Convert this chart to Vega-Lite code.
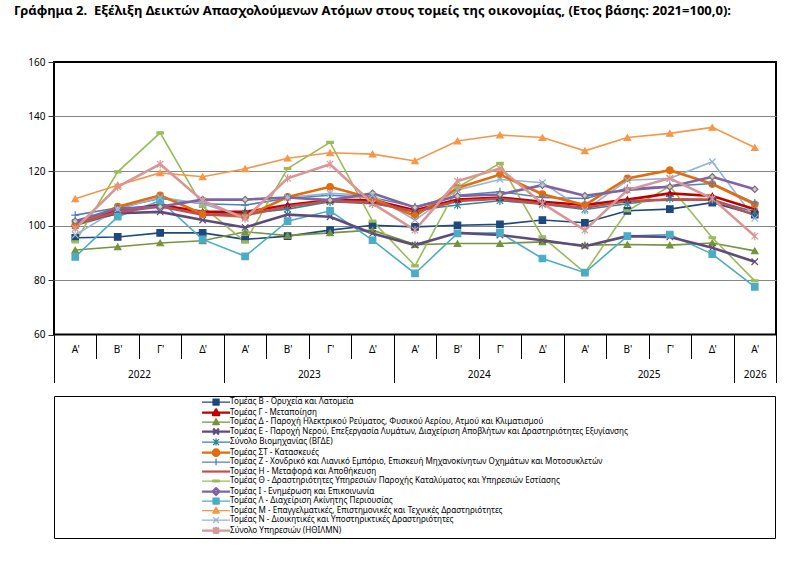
{
  "$schema": "https://vega.github.io/schema/vega-lite/v6.json",
  "width": 722,
  "height": 272.5,
  "autosize": {"type": "none"},
  "padding": {"left": 54, "top": 62, "right": 35, "bottom": 233.5},
  "background": "white",
  "title": {
    "text": "Γράφημα 2.\u00a0 Εξέλιξη Δεικτών Απασχολούμενων Ατόμων στους τομείς της οικονομίας, (Ετος βάσης: 2021=100,0):",
    "anchor": "start", "frame": "group", "dx": -40, "offset": 39,
    "font": "Noto Sans", "fontSize": 13, "fontWeight": "bold", "color": "black"
  },
  "params": [
    {"name": "codes", "value": ["B", "G", "D", "E", "BGDE", "ST", "Z", "H", "TH", "I", "L", "M", "N", "HTHILMN"]},
    {"name": "names", "value": [
      "Τομέας Β - Ορυχεία και Λατομεία",
      "Τομέας Γ - Μεταποίηση",
      "Τομέας Δ - Παροχή Ηλεκτρικού Ρεύματος, Φυσικού Αερίου, Ατμού και Κλιματισμού",
      "Τομέας Ε - Παροχή Νερού, Επεξεργασία Λυμάτων, Διαχείριση Αποβλήτων και Δραστηριότητες Εξυγίανσης",
      "Σύνολο Βιομηχανίας (ΒΓΔΕ)",
      "Τομέας ΣΤ - Κατασκευές",
      "Τομέας Ζ - Χονδρικό και Λιανικό Εμπόριο, Επισκευή Μηχανοκίνητων Οχημάτων και Μοτοσυκλετών",
      "Τομέας Η - Μεταφορά και Αποθήκευση",
      "Τομέας Θ - Δραστηριότητες Υπηρεσιών Παροχής Καταλύματος και Υπηρεσιών Εστίασης",
      "Τομέας Ι - Ενημέρωση και Επικοινωνία",
      "Τομέας Λ - Διαχείριση Ακίνητης Περιουσίας",
      "Τομέας Μ - Επαγγελματικές, Επιστημονικές και Τεχνικές Δραστηριότητες",
      "Τομέας Ν - Διοικητικές και Υποστηρικτικές Δραστηριότητες",
      "Σύνολο Υπηρεσιών (ΗΘΙΛΜΝ)"
    ]},
    {"name": "legendPaths", "value": [
      "M-2.8,0H2.8M-0.6,-0.6H0.6V0.6H-0.6Z",
      "M-2.8,0H2.8M0,-0.65L0.65,0.5H-0.65Z",
      "M-2.8,0H2.8M0,-0.65L0.65,0.5H-0.65Z",
      "M-2.8,0H2.8M-0.58,-0.58L0.58,0.58M-0.58,0.58L0.58,-0.58",
      "M-2.8,0H2.8M-0.58,-0.58L0.58,0.58M-0.58,0.58L0.58,-0.58M0,-0.7V0.7",
      "M-2.8,0H2.8M0.65,0A0.65,0.65,0,1,1,-0.65,0A0.65,0.65,0,1,1,0.65,0Z",
      "M-2.8,0H2.8M0,-0.65V0.65",
      "M-2.8,0H2.8",
      "M-2.8,0H2.8M-0.65,-0.18H0.65V0.18H-0.65Z",
      "M-2.8,0H2.8M0,-0.7L0.7,0L0,0.7L-0.7,0Z",
      "M-2.8,0H2.8M-0.6,-0.6H0.6V0.6H-0.6Z",
      "M-2.8,0H2.8M0,-0.65L0.65,0.5H-0.65Z",
      "M-2.8,0H2.8M-0.58,-0.58L0.58,0.58M-0.58,0.58L0.58,-0.58",
      "M-2.8,0H2.8M-0.58,-0.58L0.58,0.58M-0.58,0.58L0.58,-0.58M0,-0.7V0.7"
    ]},
    {"name": "thick", "value": ["G", "E", "ST", "H", "I", "HTHILMN"]}
  ],
  "data": {
    "values": [
      {"sector": "B", "period": 0, "value": 95.5}, {"sector": "B", "period": 1, "value": 95.8}, {"sector": "B", "period": 2, "value": 97.3}, {"sector": "B", "period": 3, "value": 97.3},
      {"sector": "B", "period": 4, "value": 94.9}, {"sector": "B", "period": 5, "value": 96.1}, {"sector": "B", "period": 6, "value": 98.3}, {"sector": "B", "period": 7, "value": 100.1},
      {"sector": "B", "period": 8, "value": 99.5}, {"sector": "B", "period": 9, "value": 100.1}, {"sector": "B", "period": 10, "value": 100.4}, {"sector": "B", "period": 11, "value": 102.0},
      {"sector": "B", "period": 12, "value": 101.0}, {"sector": "B", "period": 13, "value": 105.4}, {"sector": "B", "period": 14, "value": 106.0}, {"sector": "B", "period": 15, "value": 108.4},
      {"sector": "B", "period": 16, "value": 104.0},

      {"sector": "G", "period": 0, "value": 100.7}, {"sector": "G", "period": 1, "value": 105.6}, {"sector": "G", "period": 2, "value": 107.5}, {"sector": "G", "period": 3, "value": 105.0},
      {"sector": "G", "period": 4, "value": 105.0}, {"sector": "G", "period": 5, "value": 107.5}, {"sector": "G", "period": 6, "value": 109.3}, {"sector": "G", "period": 7, "value": 109.3},
      {"sector": "G", "period": 8, "value": 105.6}, {"sector": "G", "period": 9, "value": 109.5}, {"sector": "G", "period": 10, "value": 110.3}, {"sector": "G", "period": 11, "value": 108.7},
      {"sector": "G", "period": 12, "value": 107.5}, {"sector": "G", "period": 13, "value": 109.5}, {"sector": "G", "period": 14, "value": 111.8}, {"sector": "G", "period": 15, "value": 110.8},
      {"sector": "G", "period": 16, "value": 106.0},

      {"sector": "D", "period": 0, "value": 91.0}, {"sector": "D", "period": 1, "value": 92.2}, {"sector": "D", "period": 2, "value": 93.6}, {"sector": "D", "period": 3, "value": 94.4},
      {"sector": "D", "period": 4, "value": 97.7}, {"sector": "D", "period": 5, "value": 96.3}, {"sector": "D", "period": 6, "value": 97.3}, {"sector": "D", "period": 7, "value": 98.3},
      {"sector": "D", "period": 8, "value": 93.0}, {"sector": "D", "period": 9, "value": 93.4}, {"sector": "D", "period": 10, "value": 93.4}, {"sector": "D", "period": 11, "value": 94.0},
      {"sector": "D", "period": 12, "value": 92.8}, {"sector": "D", "period": 13, "value": 93.0}, {"sector": "D", "period": 14, "value": 92.8}, {"sector": "D", "period": 15, "value": 93.6},
      {"sector": "D", "period": 16, "value": 90.7},

      {"sector": "E", "period": 0, "value": 101.0}, {"sector": "E", "period": 1, "value": 104.5}, {"sector": "E", "period": 2, "value": 105.0}, {"sector": "E", "period": 3, "value": 102.0},
      {"sector": "E", "period": 4, "value": 99.3}, {"sector": "E", "period": 5, "value": 104.0}, {"sector": "E", "period": 6, "value": 103.2}, {"sector": "E", "period": 7, "value": 97.1},
      {"sector": "E", "period": 8, "value": 92.8}, {"sector": "E", "period": 9, "value": 97.3}, {"sector": "E", "period": 10, "value": 96.5}, {"sector": "E", "period": 11, "value": 94.6},
      {"sector": "E", "period": 12, "value": 92.4}, {"sector": "E", "period": 13, "value": 96.1}, {"sector": "E", "period": 14, "value": 95.8}, {"sector": "E", "period": 15, "value": 91.8},
      {"sector": "E", "period": 16, "value": 86.7},

      {"sector": "BGDE", "period": 0, "value": 100.0}, {"sector": "BGDE", "period": 1, "value": 104.4}, {"sector": "BGDE", "period": 2, "value": 108.0}, {"sector": "BGDE", "period": 3, "value": 104.5},
      {"sector": "BGDE", "period": 4, "value": 104.4}, {"sector": "BGDE", "period": 5, "value": 106.0}, {"sector": "BGDE", "period": 6, "value": 108.7}, {"sector": "BGDE", "period": 7, "value": 108.0},
      {"sector": "BGDE", "period": 8, "value": 105.6}, {"sector": "BGDE", "period": 9, "value": 107.5}, {"sector": "BGDE", "period": 10, "value": 109.1}, {"sector": "BGDE", "period": 11, "value": 107.8},
      {"sector": "BGDE", "period": 12, "value": 105.9}, {"sector": "BGDE", "period": 13, "value": 108.0}, {"sector": "BGDE", "period": 14, "value": 109.9}, {"sector": "BGDE", "period": 15, "value": 109.3},
      {"sector": "BGDE", "period": 16, "value": 105.0},

      {"sector": "ST", "period": 0, "value": 100.1}, {"sector": "ST", "period": 1, "value": 106.9}, {"sector": "ST", "period": 2, "value": 111.1}, {"sector": "ST", "period": 3, "value": 104.2},
      {"sector": "ST", "period": 4, "value": 103.2}, {"sector": "ST", "period": 5, "value": 110.5}, {"sector": "ST", "period": 6, "value": 114.2}, {"sector": "ST", "period": 7, "value": 109.9},
      {"sector": "ST", "period": 8, "value": 103.5}, {"sector": "ST", "period": 9, "value": 113.8}, {"sector": "ST", "period": 10, "value": 118.7}, {"sector": "ST", "period": 11, "value": 111.5},
      {"sector": "ST", "period": 12, "value": 107.5}, {"sector": "ST", "period": 13, "value": 117.3}, {"sector": "ST", "period": 14, "value": 120.3}, {"sector": "ST", "period": 15, "value": 115.2},
      {"sector": "ST", "period": 16, "value": 107.8},

      {"sector": "Z", "period": 0, "value": 103.8}, {"sector": "Z", "period": 1, "value": 106.5}, {"sector": "Z", "period": 2, "value": 109.9}, {"sector": "Z", "period": 3, "value": 108.0},
      {"sector": "Z", "period": 4, "value": 107.5}, {"sector": "Z", "period": 5, "value": 110.0}, {"sector": "Z", "period": 6, "value": 111.1}, {"sector": "Z", "period": 7, "value": 110.3},
      {"sector": "Z", "period": 8, "value": 106.9}, {"sector": "Z", "period": 9, "value": 111.1}, {"sector": "Z", "period": 10, "value": 112.4}, {"sector": "Z", "period": 11, "value": 110.3},
      {"sector": "Z", "period": 12, "value": 109.9}, {"sector": "Z", "period": 13, "value": 113.6}, {"sector": "Z", "period": 14, "value": 114.4}, {"sector": "Z", "period": 15, "value": 115.4},
      {"sector": "Z", "period": 16, "value": 108.3},

      {"sector": "H", "period": 0, "value": 100.5}, {"sector": "H", "period": 1, "value": 105.0}, {"sector": "H", "period": 2, "value": 107.0}, {"sector": "H", "period": 3, "value": 104.0},
      {"sector": "H", "period": 4, "value": 103.8}, {"sector": "H", "period": 5, "value": 107.0}, {"sector": "H", "period": 6, "value": 109.0}, {"sector": "H", "period": 7, "value": 108.5},
      {"sector": "H", "period": 8, "value": 105.0}, {"sector": "H", "period": 9, "value": 109.0}, {"sector": "H", "period": 10, "value": 109.8}, {"sector": "H", "period": 11, "value": 108.0},
      {"sector": "H", "period": 12, "value": 106.5}, {"sector": "H", "period": 13, "value": 109.0}, {"sector": "H", "period": 14, "value": 109.5}, {"sector": "H", "period": 15, "value": 109.5},
      {"sector": "H", "period": 16, "value": 103.8},

      {"sector": "TH", "period": 0, "value": 94.0}, {"sector": "TH", "period": 1, "value": 119.7}, {"sector": "TH", "period": 2, "value": 134.0}, {"sector": "TH", "period": 3, "value": 107.0},
      {"sector": "TH", "period": 4, "value": 94.0}, {"sector": "TH", "period": 5, "value": 120.9}, {"sector": "TH", "period": 6, "value": 130.5}, {"sector": "TH", "period": 7, "value": 101.6},
      {"sector": "TH", "period": 8, "value": 85.2}, {"sector": "TH", "period": 9, "value": 114.0}, {"sector": "TH", "period": 10, "value": 122.8}, {"sector": "TH", "period": 11, "value": 95.8},
      {"sector": "TH", "period": 12, "value": 82.7}, {"sector": "TH", "period": 13, "value": 105.4}, {"sector": "TH", "period": 14, "value": 114.4}, {"sector": "TH", "period": 15, "value": 95.5},
      {"sector": "TH", "period": 16, "value": 79.7},

      {"sector": "I", "period": 0, "value": 101.6}, {"sector": "I", "period": 1, "value": 106.2}, {"sector": "I", "period": 2, "value": 106.9}, {"sector": "I", "period": 3, "value": 109.5},
      {"sector": "I", "period": 4, "value": 109.5}, {"sector": "I", "period": 5, "value": 110.3}, {"sector": "I", "period": 6, "value": 109.3}, {"sector": "I", "period": 7, "value": 111.8},
      {"sector": "I", "period": 8, "value": 106.6}, {"sector": "I", "period": 9, "value": 110.8}, {"sector": "I", "period": 10, "value": 111.4}, {"sector": "I", "period": 11, "value": 114.8},
      {"sector": "I", "period": 12, "value": 110.9}, {"sector": "I", "period": 13, "value": 113.0}, {"sector": "I", "period": 14, "value": 114.2}, {"sector": "I", "period": 15, "value": 117.9},
      {"sector": "I", "period": 16, "value": 113.3},

      {"sector": "L", "period": 0, "value": 88.5}, {"sector": "L", "period": 1, "value": 103.2}, {"sector": "L", "period": 2, "value": 109.1}, {"sector": "L", "period": 3, "value": 94.9},
      {"sector": "L", "period": 4, "value": 88.7}, {"sector": "L", "period": 5, "value": 101.6}, {"sector": "L", "period": 6, "value": 105.4}, {"sector": "L", "period": 7, "value": 94.6},
      {"sector": "L", "period": 8, "value": 82.4}, {"sector": "L", "period": 9, "value": 97.1}, {"sector": "L", "period": 10, "value": 97.3}, {"sector": "L", "period": 11, "value": 87.9},
      {"sector": "L", "period": 12, "value": 82.7}, {"sector": "L", "period": 13, "value": 96.1}, {"sector": "L", "period": 14, "value": 96.7}, {"sector": "L", "period": 15, "value": 89.5},
      {"sector": "L", "period": 16, "value": 77.5},

      {"sector": "M", "period": 0, "value": 109.8}, {"sector": "M", "period": 1, "value": 114.8}, {"sector": "M", "period": 2, "value": 119.3}, {"sector": "M", "period": 3, "value": 117.9},
      {"sector": "M", "period": 4, "value": 120.8}, {"sector": "M", "period": 5, "value": 124.7}, {"sector": "M", "period": 6, "value": 126.7}, {"sector": "M", "period": 7, "value": 126.2},
      {"sector": "M", "period": 8, "value": 123.7}, {"sector": "M", "period": 9, "value": 131.0}, {"sector": "M", "period": 10, "value": 133.2}, {"sector": "M", "period": 11, "value": 132.3},
      {"sector": "M", "period": 12, "value": 127.4}, {"sector": "M", "period": 13, "value": 132.3}, {"sector": "M", "period": 14, "value": 133.8}, {"sector": "M", "period": 15, "value": 136.0},
      {"sector": "M", "period": 16, "value": 128.6},

      {"sector": "N", "period": 0, "value": 96.5}, {"sector": "N", "period": 1, "value": 106.0}, {"sector": "N", "period": 2, "value": 110.3}, {"sector": "N", "period": 3, "value": 108.0},
      {"sector": "N", "period": 4, "value": 103.0}, {"sector": "N", "period": 5, "value": 110.3}, {"sector": "N", "period": 6, "value": 111.8}, {"sector": "N", "period": 7, "value": 111.1},
      {"sector": "N", "period": 8, "value": 102.0}, {"sector": "N", "period": 9, "value": 113.0}, {"sector": "N", "period": 10, "value": 116.9}, {"sector": "N", "period": 11, "value": 115.7},
      {"sector": "N", "period": 12, "value": 105.6}, {"sector": "N", "period": 13, "value": 116.6}, {"sector": "N", "period": 14, "value": 117.3}, {"sector": "N", "period": 15, "value": 123.4},
      {"sector": "N", "period": 16, "value": 102.6},

      {"sector": "HTHILMN", "period": 0, "value": 98.9}, {"sector": "HTHILMN", "period": 1, "value": 114.2}, {"sector": "HTHILMN", "period": 2, "value": 122.5}, {"sector": "HTHILMN", "period": 3, "value": 109.1},
      {"sector": "HTHILMN", "period": 4, "value": 102.6}, {"sector": "HTHILMN", "period": 5, "value": 117.3}, {"sector": "HTHILMN", "period": 6, "value": 122.5}, {"sector": "HTHILMN", "period": 7, "value": 108.1},
      {"sector": "HTHILMN", "period": 8, "value": 98.3}, {"sector": "HTHILMN", "period": 9, "value": 116.3}, {"sector": "HTHILMN", "period": 10, "value": 120.9}, {"sector": "HTHILMN", "period": 11, "value": 108.1},
      {"sector": "HTHILMN", "period": 12, "value": 98.3}, {"sector": "HTHILMN", "period": 13, "value": 113.0}, {"sector": "HTHILMN", "period": 14, "value": 117.3}, {"sector": "HTHILMN", "period": 15, "value": 109.9},
      {"sector": "HTHILMN", "period": 16, "value": 96.1}
    ]
  },
  "encoding": {
    "y": {
      "field": "value", "type": "quantitative",
      "scale": {"domain": [60, 160], "nice": false, "zero": false},
      "axis": {
        "title": null, "values": [60, 80, 100, 120, 140, 160],
        "grid": true, "gridColor": "#868686", "gridWidth": 1,
        "gridOpacity": {"condition": {"test": "datum.value == 60 || datum.value == 160", "value": 0}, "value": 1},
        "ticks": true, "tickSize": 6, "tickColor": "#333333",
        "labelPadding": 3, "labelFontSize": 10
      }
    }
  },
  "layer": [
    {
      "transform": [{"filter": {"field": "sector", "oneOf": ["B", "D", "BGDE", "Z", "TH", "L", "M", "N"]}}],
      "mark": {"type": "line", "strokeWidth": 1.6},
      "encoding": {
        "x": {
          "field": "period", "type": "quantitative",
          "scale": {"domain": [-0.5, 16.5], "nice": false, "zero": false},
          "axis": {
            "orient": "bottom", "title": null, "values": [0, 1, 2, 3, 4, 5, 6, 7, 8, 9, 10, 11, 12, 13, 14, 15, 16],
            "ticks": false, "labelPadding": 10, "labelFontSize": 10, "labelOverlap": false, "labelFlush": false,
            "labelExpr": "[\"Α'\", \"Β'\", \"Γ'\", \"Δ'\"][datum.value % 4]"
          }
        },
        "stroke": {
          "field": "sector", "type": "nominal",
          "scale": {
            "domain": ["B", "G", "D", "E", "BGDE", "ST", "Z", "H", "TH", "I", "L", "M", "N", "HTHILMN"],
            "range": ["#1F497D", "#C00000", "#77933C", "#604A7B", "#31859C", "#E46C0A", "#4F81BD", "#C0504D", "#9BBB59", "#8064A2", "#4BACC6", "#F79646", "#95B3D7", "#D99694"]
          },
          "legend": {
            "title": "\u00a0", "titleOrient": "right", "titlePadding": 145,
            "labelExpr": "names[indexof(codes, datum.value)]",
            "encode": {
              "symbols": {
                "update": {
                  "shape": {"signal": "legendPaths[indexof(codes, datum.value)]"},
                  "strokeWidth": {"signal": "indexof(thick, datum.value) >= 0 ? 2.2 : 1.3"},
                  "strokeJoin": {"value": "round"},
                  "opacity": {"value": 1}
                }
              }
            }
          }
        }
      }
    },
    {
      "transform": [{"filter": {"field": "sector", "oneOf": ["G", "E", "ST", "H", "I", "HTHILMN"]}}],
      "mark": {"type": "line", "strokeWidth": 2.6},
      "encoding": {
        "x": {
          "field": "period", "type": "quantitative",
          "scale": {"domain": [-0.5, 16.5], "nice": false, "zero": false},
          "axis": {
            "orient": "bottom", "title": null,
            "values": [-0.5, 0.5, 1.5, 2.5, 3.5, 4.5, 5.5, 6.5, 7.5, 8.5, 9.5, 10.5, 11.5, 12.5, 13.5, 14.5, 15.5, 16.5],
            "labels": false, "ticks": true, "tickColor": "black", "tickWidth": 1,
            "tickSize": {"condition": {"test": "indexof([-0.5, 3.5, 7.5, 11.5, 15.5, 16.5], datum.value) >= 0", "value": 48}, "value": 24}
          }
        },
        "stroke": {
          "field": "sector", "type": "nominal",
          "scale": {
            "domain": ["B", "G", "D", "E", "BGDE", "ST", "Z", "H", "TH", "I", "L", "M", "N", "HTHILMN"],
            "range": ["#1F497D", "#C00000", "#77933C", "#604A7B", "#31859C", "#E46C0A", "#4F81BD", "#C0504D", "#9BBB59", "#8064A2", "#4BACC6", "#F79646", "#95B3D7", "#D99694"]
          }
        }
      }
    },
    {
      "mark": {"type": "point", "filled": true, "opacity": 1, "size": 42, "strokeWidth": 1.2},
      "encoding": {
        "x": {
          "field": "period", "type": "quantitative",
          "scale": {"domain": [-0.5, 16.5], "nice": false, "zero": false},
          "axis": {
            "orient": "bottom", "title": null, "values": [1.5, 5.5, 9.5, 13.5, 16],
            "ticks": false, "labelPadding": 35, "labelFontSize": 10, "labelOverlap": false, "labelFlush": false,
            "labelExpr": "'' + (2022 + floor(datum.value / 4))"
          }
        },
        "stroke": {
          "field": "sector", "type": "nominal",
          "scale": {
            "domain": ["B", "G", "D", "E", "BGDE", "ST", "Z", "H", "TH", "I", "L", "M", "N", "HTHILMN"],
            "range": ["#1F497D", "#C00000", "#77933C", "#604A7B", "#31859C", "#E46C0A", "#4F81BD", "#C0504D", "#9BBB59", "#8064A2", "#4BACC6", "#F79646", "#95B3D7", "#D99694"]
          }
        },
        "fill": {
          "field": "sector", "type": "nominal",
          "scale": {
            "domain": ["B", "G", "D", "E", "BGDE", "ST", "Z", "H", "TH", "I", "L", "M", "N", "HTHILMN"],
            "range": ["#1F497D", "#C00000", "#77933C", "#604A7B", "#31859C", "#E46C0A", "#4F81BD", "#C0504D", "#9BBB59", "#C3D69B", "#4BACC6", "#F79646", "#95B3D7", "#D99694"]
          }
        },
        "shape": {
          "field": "sector", "type": "nominal", "legend": null,
          "scale": {
            "domain": ["HTHILMN", "N", "M", "L", "I", "TH", "H", "Z", "ST", "BGDE", "E", "D", "G", "B"],
            "range": ["M-1,-1L1,1M-1,1L1,-1M0,-1.3V1.3", "M-1,-1L1,1M-1,1L1,-1", "triangle-up", "square", "diamond", "M-1,-0.3H1V0.3H-1Z", "M0,0", "M-1.2,0H1.2M0,-1.2V1.2", "circle", "M-1,-1L1,1M-1,1L1,-1M0,-1.3V1.3", "M-1,-1L1,1M-1,1L1,-1", "triangle-up", "triangle-up", "square"]
          }
        }
      }
    }
  ],
  "resolve": {"axis": {"x": "independent"}},
  "config": {
    "font": "Noto Sans",
    "view": {"stroke": "black", "strokeWidth": 2},
    "axis": {"labelFont": "Noto Sans", "labelColor": "black", "domain": false, "grid": false},
    "legend": {
      "orient": "none", "legendX": 0, "legendY": 334, "direction": "vertical",
      "strokeColor": "black", "padding": 2,
      "labelFont": "Noto Sans", "labelFontSize": 8.1, "labelColor": "black", "labelLimit": 700,
      "titleFontSize": 8,
      "symbolOffset": 156, "labelOffset": 10, "rowPadding": 0.5
    }
  }
}
